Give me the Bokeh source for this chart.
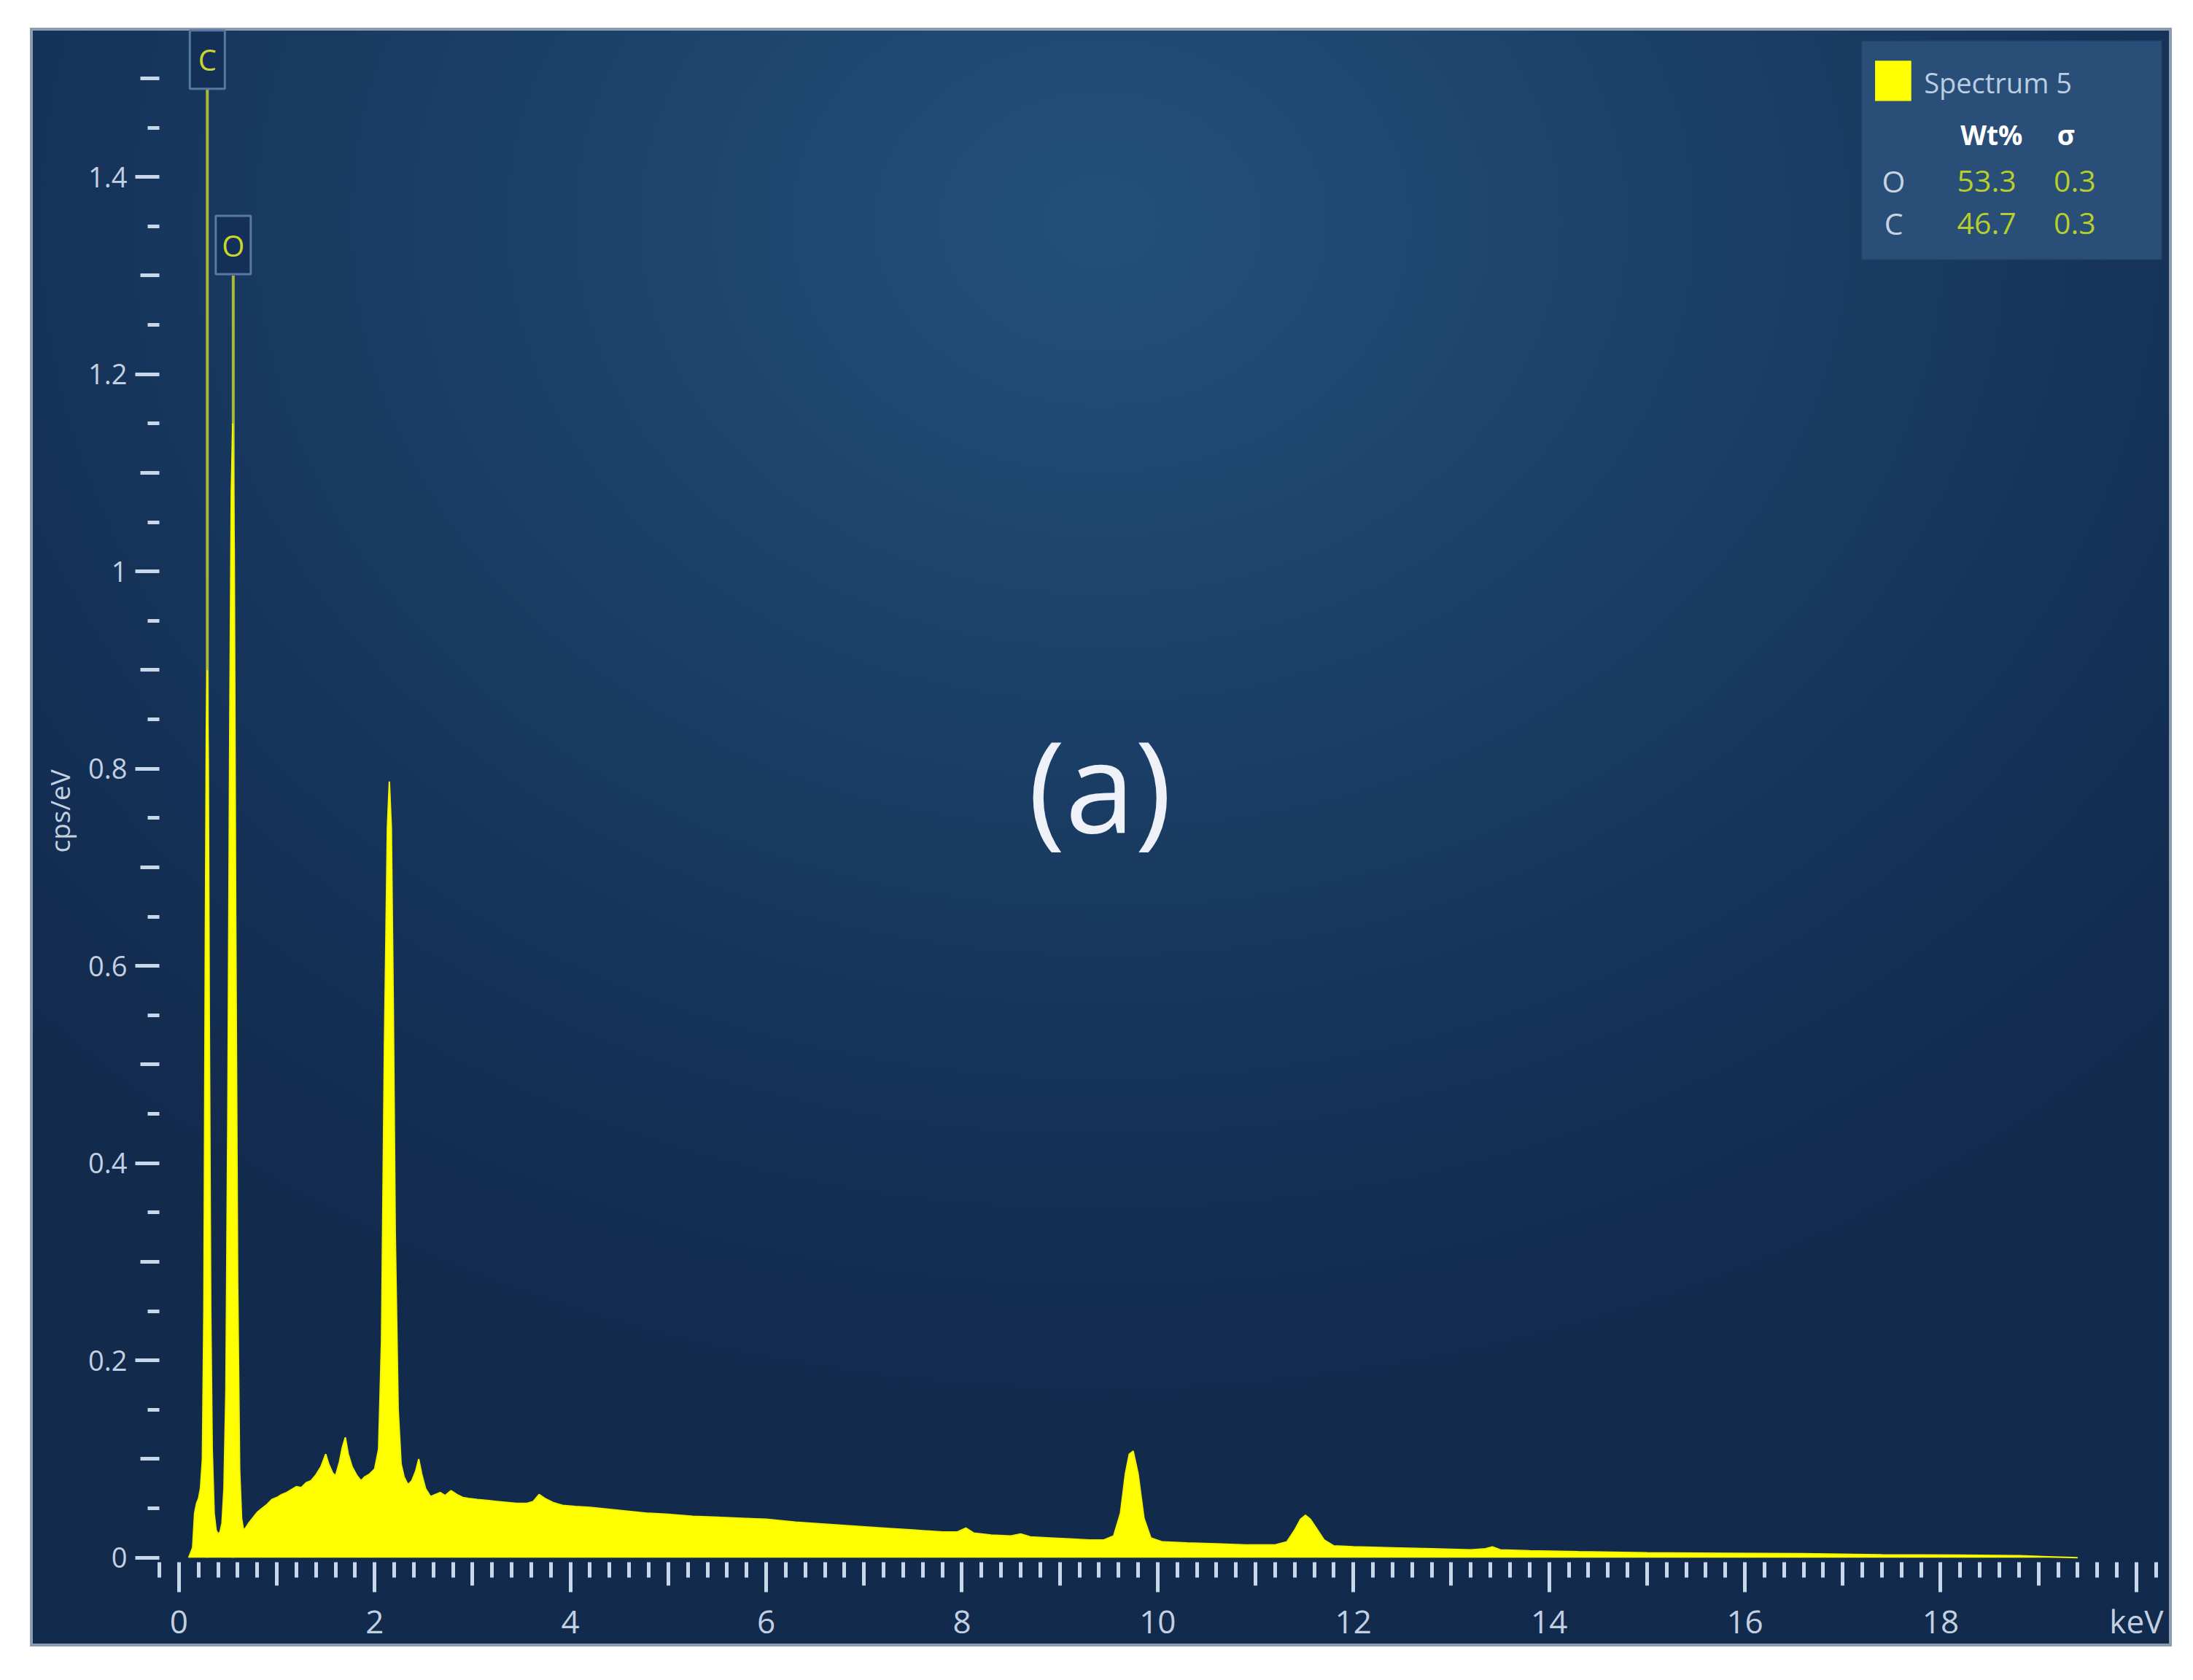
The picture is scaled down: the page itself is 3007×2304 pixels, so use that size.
from bokeh.plotting import figure
from bokeh.models import (ColumnDataSource, FixedTicker, LinearAxis, CustomJSTickFormatter,
                          BoxAnnotation, Label, Range1d)
from bokeh.core.properties import value
from bokeh.embed import file_html
from bokeh.resources import INLINE

# ---------------- data ----------------
energy_kev = [
    0.10, 0.14, 0.16, 0.18, 0.20, 0.22, 0.24, 0.255, 0.27, 0.28, 0.29, 0.30, 0.31, 0.325, 0.34,
    0.36, 0.38, 0.40, 0.42, 0.44, 0.46, 0.48, 0.50, 0.52, 0.535, 0.55, 0.565, 0.58, 0.60, 0.62,
    0.64, 0.66, 0.68, 0.72, 0.76, 0.80, 0.85, 0.90, 0.95, 1.00, 1.05, 1.10, 1.15, 1.20, 1.25,
    1.30, 1.35, 1.40, 1.45, 1.50, 1.53, 1.57, 1.60, 1.64, 1.67, 1.70, 1.73, 1.77, 1.82, 1.86,
    1.90, 1.95, 2.00, 2.04, 2.07, 2.10, 2.13, 2.15, 2.17, 2.19, 2.21, 2.24, 2.27, 2.30, 2.34,
    2.38, 2.42, 2.45, 2.48, 2.52, 2.57, 2.62, 2.67, 2.72, 2.78, 2.84, 2.90, 2.96, 3.05, 3.15,
    3.25, 3.35, 3.45, 3.55, 3.62, 3.68, 3.74, 3.82, 3.92, 4.05, 4.20, 4.40, 4.60, 4.80, 5.00,
    5.25, 5.50, 5.75, 6.00, 6.30, 6.60, 6.90, 7.20, 7.50, 7.80, 7.95, 8.04, 8.12, 8.30, 8.50,
    8.60, 8.70, 8.90, 9.10, 9.30, 9.45, 9.55, 9.62, 9.67, 9.71, 9.75, 9.80, 9.86, 9.93, 10.05,
    10.3, 10.6, 10.9, 11.2, 11.32, 11.40, 11.46, 11.51, 11.56, 11.62, 11.70, 11.80, 12.0, 12.4,
    12.8, 13.2, 13.35, 13.42, 13.5, 13.8, 14.3, 15.0, 15.8, 16.6, 17.4, 18.2, 18.8, 19.1, 19.4,
]
counts_cps_per_ev = [
    0.000, 0.010, 0.045, 0.055, 0.060, 0.070, 0.100, 0.250, 0.620, 0.840, 0.900, 0.800, 0.550, 0.250, 0.110,
    0.045, 0.028, 0.024, 0.026, 0.035, 0.070, 0.170, 0.450, 0.850, 1.080, 1.150, 1.020, 0.650, 0.280, 0.090,
    0.040, 0.028, 0.030, 0.036, 0.041, 0.046, 0.050, 0.054, 0.059, 0.061, 0.064, 0.066, 0.069, 0.072, 0.071,
    0.076, 0.078, 0.084, 0.092, 0.105, 0.095, 0.086, 0.083, 0.097, 0.112, 0.122, 0.105, 0.092, 0.083, 0.078,
    0.082, 0.085, 0.090, 0.110, 0.220, 0.520, 0.740, 0.787, 0.740, 0.560, 0.330, 0.150, 0.095, 0.082, 0.074,
    0.078, 0.088, 0.100, 0.085, 0.070, 0.062, 0.064, 0.066, 0.063, 0.068, 0.064, 0.061, 0.060, 0.059, 0.058,
    0.057, 0.056, 0.055, 0.055, 0.057, 0.064, 0.060, 0.056, 0.053, 0.052, 0.051, 0.049, 0.047, 0.045, 0.044,
    0.042, 0.041, 0.040, 0.039, 0.036, 0.034, 0.032, 0.030, 0.028, 0.026, 0.026, 0.030, 0.025, 0.023, 0.022,
    0.024, 0.021, 0.020, 0.019, 0.018, 0.018, 0.022, 0.045, 0.085, 0.105, 0.108, 0.085, 0.040, 0.020, 0.016,
    0.015, 0.014, 0.013, 0.013, 0.016, 0.028, 0.039, 0.043, 0.039, 0.030, 0.018, 0.012, 0.011, 0.010,
    0.009, 0.008, 0.009, 0.011, 0.008, 0.007, 0.006, 0.005, 0.0045, 0.004, 0.003, 0.0025, 0.002, 0.001, 0.000,
]

marker_elements = ["C", "O"]
marker_energy_kev = [0.29, 0.555]

quant_elements = ["O", "C"]
quant_wt = ["53.3", "46.7"]
quant_sigma = ["0.3", "0.3"]
spectrum_name = "Spectrum 5"

y_major_ticks = [0, 0.2, 0.4, 0.6, 0.8, 1.0, 1.2, 1.4]
y_mid_ticks = [0.1, 0.3, 0.5, 0.7, 0.9, 1.1, 1.3, 1.5]
y_minor_ticks = [round(0.05 + 0.1 * i, 2) for i in range(15)]
x_major_ticks = [0, 2, 4, 6, 8, 10, 12, 14, 16, 18, 20]
x_mid_ticks = [1, 3, 5, 7, 9, 11, 13, 15, 17, 19]
x_minor_ticks = [round(-0.2 + 0.2 * i, 1) for i in range(103) if (i - 1) % 5 != 0]

# ---------------- styling ----------------
TICK = "#c9d7ea"
LABEL = "#c2d0e3"
FONT = "Open Sans"
AX_X = -0.2     # where the y axis sits (keV)
AX_Y = -0.005   # where the x axis sits (cps/eV)

p = figure(width=2937, height=2220, output_backend="svg", toolbar_location=None,
           x_range=Range1d(-1.519, 20.366), y_range=Range1d(-0.0904, 1.551),
           x_axis_location=None, y_axis_location=None,
           min_border=0, min_border_left=0, min_border_right=0, min_border_top=0, min_border_bottom=0,
           background_fill_color=None, border_fill_color=None, outline_line_color=None,
           margin=(38, 0, 0, 41),
           styles={"background": "radial-gradient(ellipse 70% 75% at 50% 12%, #22507b 0%, #1b4068 40%, #153157 75%, #122a4c 100%)",
                   "box-shadow": "inset 0 0 0 4px #8d9cb2"})
p.grid.grid_line_color = None

def style_ticks(ax, major_out, minor_out):
    ax.axis_line_color = None
    ax.major_tick_in = 0
    ax.minor_tick_in = 0
    ax.major_tick_out = major_out
    ax.minor_tick_out = minor_out
    ax.major_tick_line_color = TICK
    ax.minor_tick_line_color = TICK
    ax.major_tick_line_width = 5
    ax.minor_tick_line_width = 5

# medium ticks
y_mid = LinearAxis(ticker=FixedTicker(ticks=y_mid_ticks), fixed_location=AX_X)
style_ticks(y_mid, 26, 0)
y_mid.minor_tick_line_color = None
y_mid.major_label_text_font_size = "0px"
y_mid.major_label_text_alpha = 0
p.add_layout(y_mid, "left")

y_ax = LinearAxis(ticker=FixedTicker(ticks=y_major_ticks, minor_ticks=y_minor_ticks),
                  formatter=CustomJSTickFormatter(code="return String(Math.round(tick*10)/10);"),
                  fixed_location=AX_X)
style_ticks(y_ax, 33, 16)
y_ax.major_label_text_font = FONT
y_ax.major_label_text_font_size = "38px"
y_ax.major_label_text_color = LABEL
y_ax.major_label_standoff = 11
p.add_layout(y_ax, "left")

x_mid = LinearAxis(ticker=FixedTicker(ticks=x_mid_ticks), fixed_location=AX_Y)
style_ticks(x_mid, 32, 0)
x_mid.minor_tick_line_color = None
x_mid.major_label_text_font_size = "0px"
x_mid.major_label_text_alpha = 0
p.add_layout(x_mid, "below")

x_ax = LinearAxis(ticker=FixedTicker(ticks=x_major_ticks, minor_ticks=x_minor_ticks),
                  formatter=CustomJSTickFormatter(code="return tick === 20 ? 'keV' : String(tick);"),
                  fixed_location=AX_Y)
style_ticks(x_ax, 41, 21)
x_ax.major_label_text_font = FONT
x_ax.major_label_text_font_size = "44px"
x_ax.major_label_text_color = LABEL
x_ax.major_label_standoff = 9
p.add_layout(x_ax, "below")

p.add_layout(Label(x=-1.221, y=0.757, text="cps/eV", angle=1.5708, text_align="center",
                   text_baseline="middle", text_font=FONT, text_font_size="37px",
                   text_color=LABEL))

# ---------------- element markers ----------------
msrc = ColumnDataSource(dict(energy=marker_energy_kev, element=marker_elements,
                             box_y=[1.519, 1.331], line_top=[1.49, 1.30]))
p.segment(x0="energy", y0=0, x1="energy", y1="line_top", source=msrc,
          line_color="#a7b83a", line_width=4)

# ---------------- spectrum ----------------
src = ColumnDataSource(dict(energy=energy_kev, counts=counts_cps_per_ev))
p.varea(x="energy", y1=0, y2="counts", source=src, fill_color="#ffff00")
p.line(x="energy", y="counts", source=src, line_color="#f4f400", line_width=2)

p.rect(x="energy", y="box_y", width=48, height=80, width_units="screen", height_units="screen",
       source=msrc, fill_color="#142f58", line_color="#587aa2", line_width=3)
p.text(x="energy", y="box_y", text="element", source=msrc, text_align="center",
       text_baseline="middle", text_font=value(FONT), text_font_size="40px", text_color="#c8d62e")

# ---------------- legend / quant table ----------------
legend_box = BoxAnnotation(left=17.19, right=20.262, top=1.5384, bottom=1.3159,
                           fill_color="#294e77", fill_alpha=1.0, line_color="#1b3454",
                           line_width=3, level="underlay")
p.add_layout(legend_box)
swatch = BoxAnnotation(left=17.33, right=17.70, top=1.518, bottom=1.477,
                       fill_color="#ffff00", fill_alpha=1.0, line_color=None, level="underlay")
p.add_layout(swatch)

p.text(x=[17.83], y=[1.496], text=[spectrum_name], text_align="left", text_baseline="middle",
       text_font=value(FONT), text_font_size="38px", text_color="#b9cde3")
p.text(x=[18.52, 19.28], y=[1.443, 1.443], text=["Wt%", "σ"], text_align="center",
       text_baseline="middle", text_font=value(FONT), text_font_size="37px",
       text_font_style="bold", text_color="#ffffff")

qsrc = ColumnDataSource(dict(el=quant_elements, wt=quant_wt, sg=quant_sigma, row_y=[1.396, 1.353]))
p.text(x=17.52, y="row_y", text="el", source=qsrc, text_align="center", text_baseline="middle",
       text_font=value(FONT), text_font_size="41px", text_color="#c6d4e5")
p.text(x=18.47, y="row_y", text="wt", source=qsrc, text_align="center", text_baseline="middle",
       text_font=value(FONT), text_font_size="41px", text_color="#b6cf2c")
p.text(x=19.37, y="row_y", text="sg", source=qsrc, text_align="center", text_baseline="middle",
       text_font=value(FONT), text_font_size="41px", text_color="#b6cf2c")

# ---------------- panel tag ----------------
p.add_layout(Label(x=9.41, y=0.785, text="(a)", text_align="center", text_baseline="middle",
                   text_font=FONT, text_font_size="172px", text_color="#eef2f8"))

open("out.html", "w").write(file_html(p, INLINE))
